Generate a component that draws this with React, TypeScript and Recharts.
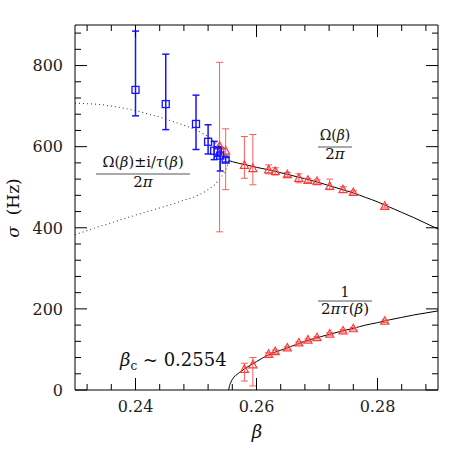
import React from 'react'
import { ComposedChart, XAxis, YAxis, Line, Scatter, ErrorBar } from 'recharts'

// plot box in page pixels
const W = 463
const H = 463
const PL = 75
const PR = 438
const PT = 25
const PB = 390

const FONT = '"DejaVu Serif", serif'
const BLUE = '#1515ff'
const RED = '#ff3b3b'
const RED_BAR = '#ff5c5c'

// blue squares
const blueBeta = [0.24, 0.245, 0.25, 0.252, 0.253, 0.2536, 0.254, 0.2549]
const blueSigma = [740, 705, 656, 612, 590, 588, 578, 568]
const blueErrLow = [64, 63, 63, 30, 22, 12, 38, 6]
const blueErrHigh = [145, 123, 71, 42, 23, 12, 20, 6]

// red triangles, upper branch Ω/2π
const redUpBeta = [0.2539, 0.2549, 0.258, 0.2594, 0.262, 0.2631, 0.2651, 0.267, 0.2685, 0.27, 0.2721, 0.2743, 0.276, 0.2812]
const redUpSigma = [601, 589, 554, 546, 543, 539, 531, 522, 517, 514, 502, 494, 487, 453]
const redUpErrLow = [211, 95, 32, 40, 10, 9, 5, 11, 5, 4, 8, 7, 4, 4]
const redUpErrHigh = [207, 55, 71, 84, 12, 9, 5, 11, 5, 4, 18, 7, 4, 4]

// red triangles, lower branch 1/2πτ
const redLowBeta = [0.258, 0.2594, 0.262, 0.2631, 0.2651, 0.267, 0.2685, 0.27, 0.2721, 0.2743, 0.276, 0.2812]
const redLowSigma = [51, 62, 88, 94.6, 103.7, 116, 123, 129, 138, 145.7, 151, 169.6]
const redLowErrLow = [29, 52, 4, 4, 3, 3, 3, 3, 3, 3, 3, 3]
const redLowErrHigh = [15, 18, 4, 4, 3, 3, 3, 3, 3, 3, 3, 3]

// curves
const omegaBeta = [0.2554, 0.256, 0.258, 0.26, 0.262, 0.265, 0.268, 0.27, 0.272, 0.274, 0.276, 0.278, 0.28, 0.282, 0.284, 0.286, 0.288, 0.29]
const omegaSigma = [566, 563, 556, 549, 543, 532, 521, 513, 504, 495, 486, 475, 464, 451, 438, 425, 411, 397]

const tauBeta = [0.2554, 0.2555, 0.2557, 0.256, 0.257, 0.258, 0.26, 0.262, 0.264, 0.266, 0.268, 0.27, 0.272, 0.274, 0.276, 0.278, 0.28, 0.282, 0.284, 0.286, 0.288, 0.29]
const tauSigma = [0, 8, 17, 26, 41, 52, 70, 87, 98, 109, 120, 129, 137, 145, 152, 160, 166, 173, 179, 185, 190, 195]

const dotBeta = [0.23, 0.232, 0.234, 0.236, 0.238, 0.24, 0.242, 0.244, 0.246, 0.248, 0.25, 0.251, 0.252, 0.253, 0.254, 0.2548, 0.2552, 0.2554]
const dotUpSigma = [707, 706, 704, 700, 695, 689, 681, 673, 663, 653, 641, 634, 625, 613, 598, 584, 574, 566]
const dotLowSigma = [383, 393, 403, 412, 422, 431, 440, 449, 458, 468, 478, 485, 494, 505, 522, 540, 554, 566]

// ticks
const xMajor = [0.24, 0.26, 0.28]
const xMajorLabels = ['0.24', '0.26', '0.28']
const xMinor = [0.232, 0.236, 0.244, 0.248, 0.252, 0.256, 0.264, 0.268, 0.272, 0.276, 0.284, 0.288]
const yMajor = [0, 200, 400, 600, 800]
const yMajorLabels = ['0', '200', '400', '600', '800']
const yMinor = [40, 80, 120, 160, 240, 280, 320, 360, 440, 480, 520, 560, 640, 680, 720, 760, 840, 880]

const xTicks = [...xMajor, ...xMinor].sort((a, b) => a - b)
const yTicks = [...yMajor, ...yMinor].sort((a, b) => a - b)

const pts = (b: number[], s: number[], lo?: number[], hi?: number[]) =>
    b.map((v, i) => ({ b: v, s: s[i], err: lo && hi ? [lo[i], hi[i]] : undefined }))

const blueData = pts(blueBeta, blueSigma, blueErrLow, blueErrHigh)
const redUpData = pts(redUpBeta, redUpSigma, redUpErrLow, redUpErrHigh)
const redLowData = pts(redLowBeta, redLowSigma, redLowErrLow, redLowErrHigh)
const omegaData = pts(omegaBeta, omegaSigma)
const tauData = pts(tauBeta, tauSigma)
const dotUpData = pts(dotBeta, dotUpSigma)
const dotLowData = pts(dotBeta, dotLowSigma)

const majorIdx = (arr: number[], v: number) => arr.findIndex(m => Math.abs(m - v) < 1e-9)

const BottomTick = (p: any) => {
    const i = majorIdx(xMajor, p.payload.value)
    return (
        <g>
            <line x1={p.x} x2={p.x} y1={PB} y2={PB - (i >= 0 ? 12 : 6)} stroke="#000" />
            {i >= 0 && (
                <text x={p.x} y={PB + 22} textAnchor="middle" fontFamily={FONT} fontSize={16} fill="#222">
                    {xMajorLabels[i]}
                </text>
            )}
        </g>
    )
}

const TopTick = (p: any) => {
    const i = majorIdx(xMajor, p.payload.value)
    return <line x1={p.x} x2={p.x} y1={PT} y2={PT + (i >= 0 ? 12 : 6)} stroke="#000" />
}

const LeftTick = (p: any) => {
    const i = majorIdx(yMajor, p.payload.value)
    return (
        <g>
            <line x1={PL} x2={PL + (i >= 0 ? 12 : 6)} y1={p.y} y2={p.y} stroke="#000" />
            {i >= 0 && (
                <text x={PL - 12} y={p.y} dy="0.36em" textAnchor="end" fontFamily={FONT} fontSize={16} fill="#222">
                    {yMajorLabels[i]}
                </text>
            )}
        </g>
    )
}

const RightTick = (p: any) => {
    const i = majorIdx(yMajor, p.payload.value)
    return <line x1={PR} x2={PR - (i >= 0 ? 12 : 6)} y1={p.y} y2={p.y} stroke="#000" />
}

const Square = (p: any) => (
    <rect x={p.cx - 3.5} y={p.cy - 3.5} width={7} height={7} fill="none" stroke={BLUE} strokeWidth={1.3} />
)

const Triangle = (p: any) => (
    <polygon
        points={`${p.cx},${p.cy - 4.5} ${p.cx - 4},${p.cy + 3} ${p.cx + 4},${p.cy + 3}`}
        fill="none"
        stroke={RED}
        strokeWidth={1.2}
    />
)

const it = { fontStyle: 'italic' as const }

export default function App() {
    return (
        <div style={{ position: 'absolute', left: 0, top: 0, width: W, height: H, background: '#fff' }}>
            {/* axes take 1px each, so margins are 1px smaller */}
            <ComposedChart width={W} height={H} margin={{ top: PT - 1, right: W - PR - 1, bottom: H - PB - 1, left: PL - 1 }}>
                <XAxis
                    type="number"
                    dataKey="b"
                    domain={[0.23, 0.29]}
                    allowDataOverflow
                    ticks={xTicks}
                    interval={0}
                    height={1}
                    tickLine={false}
                    tick={<BottomTick />}
                    axisLine={{ stroke: '#000' }}
                />
                <XAxis
                    xAxisId="top"
                    orientation="top"
                    type="number"
                    dataKey="b"
                    domain={[0.23, 0.29]}
                    allowDataOverflow
                    ticks={xTicks}
                    interval={0}
                    height={1}
                    tickLine={false}
                    tick={<TopTick />}
                    axisLine={{ stroke: '#000' }}
                />
                <YAxis
                    type="number"
                    dataKey="s"
                    domain={[0, 900]}
                    allowDataOverflow
                    ticks={yTicks}
                    interval={0}
                    width={1}
                    tickLine={false}
                    tick={<LeftTick />}
                    axisLine={{ stroke: '#000' }}
                />
                <YAxis
                    yAxisId="right"
                    orientation="right"
                    type="number"
                    dataKey="s"
                    domain={[0, 900]}
                    allowDataOverflow
                    ticks={yTicks}
                    interval={0}
                    width={1}
                    tickLine={false}
                    tick={<RightTick />}
                    axisLine={{ stroke: '#000' }}
                />
                <Line data={dotUpData} dataKey="s" type="monotone" stroke="#444" strokeWidth={1.1} strokeDasharray="1 3" dot={false} isAnimationActive={false} />
                <Line data={dotLowData} dataKey="s" type="monotone" stroke="#444" strokeWidth={1.1} strokeDasharray="1 3" dot={false} isAnimationActive={false} />
                <Line data={omegaData} dataKey="s" type="monotone" stroke="#000" strokeWidth={1} dot={false} isAnimationActive={false} />
                <Line data={tauData} dataKey="s" type="monotone" stroke="#000" strokeWidth={1} dot={false} isAnimationActive={false} />
                <Scatter data={redUpData} dataKey="s" shape={<Triangle />} isAnimationActive={false}>
                    <ErrorBar dataKey="err" direction="y" width={3.5} stroke={RED_BAR} strokeWidth={1} isAnimationActive={false} />
                </Scatter>
                <Scatter data={redLowData} dataKey="s" shape={<Triangle />} isAnimationActive={false}>
                    <ErrorBar dataKey="err" direction="y" width={3.5} stroke={RED_BAR} strokeWidth={1} isAnimationActive={false} />
                </Scatter>
                <Scatter data={blueData} dataKey="s" shape={<Square />} isAnimationActive={false}>
                    <ErrorBar dataKey="err" direction="y" width={3.5} stroke={BLUE} strokeWidth={1.5} isAnimationActive={false} />
                </Scatter>
            </ComposedChart>
            <svg width={W} height={H} style={{ position: 'absolute', left: 0, top: 0, pointerEvents: 'none' }} fontFamily={FONT} fill="#111">
                {/* axis titles */}
                <text x={257} y={438} textAnchor="middle" fontSize={18} style={it}>β</text>
                <text transform="translate(19,208) rotate(-90)" textAnchor="middle" fontSize={17}>
                    <tspan style={it}>σ</tspan>{'\u00a0\u00a0'}(Hz)
                </text>

                {/* Ω(β)/2π */}
                <text x={335} y={140} textAnchor="middle" fontSize={14}>
                    Ω(<tspan style={it}>β</tspan>)
                </text>
                <line x1={318} x2={352} y1={147} y2={147} stroke="#555" strokeWidth={1} />
                <text x={335} y={159} textAnchor="middle" fontSize={15}>
                    2<tspan style={it}>π</tspan>
                </text>

                {/* (Ω(β) ± i/τ(β))/2π */}
                <text x={143} y={167} textAnchor="middle" fontSize={14.5}>
                    Ω(<tspan style={it}>β</tspan>)±i/<tspan style={it}>τ</tspan>(<tspan style={it}>β</tspan>)
                </text>
                <line x1={96} x2={190} y1={174} y2={174} stroke="#555" strokeWidth={1} />
                <text x={143} y={187} textAnchor="middle" fontSize={15}>
                    2<tspan style={it}>π</tspan>
                </text>

                {/* 1/(2πτ(β)) */}
                <text x={345} y={297} textAnchor="middle" fontSize={14}>1</text>
                <line x1={318} x2={372} y1={301} y2={301} stroke="#555" strokeWidth={1} />
                <text x={345} y={314} textAnchor="middle" fontSize={15}>
                    2<tspan style={it}>πτ</tspan>(<tspan style={it}>β</tspan>)
                </text>

                {/* critical beta */}
                <text x={120} y={366} fontSize={18}>
                    <tspan style={it}>β</tspan>
                    <tspan fontSize={12} dy={4}>c</tspan>
                    <tspan dy={-4}>{'\u00a0~\u00a00.2554'}</tspan>
                </text>
            </svg>
        </div>
    )
}
